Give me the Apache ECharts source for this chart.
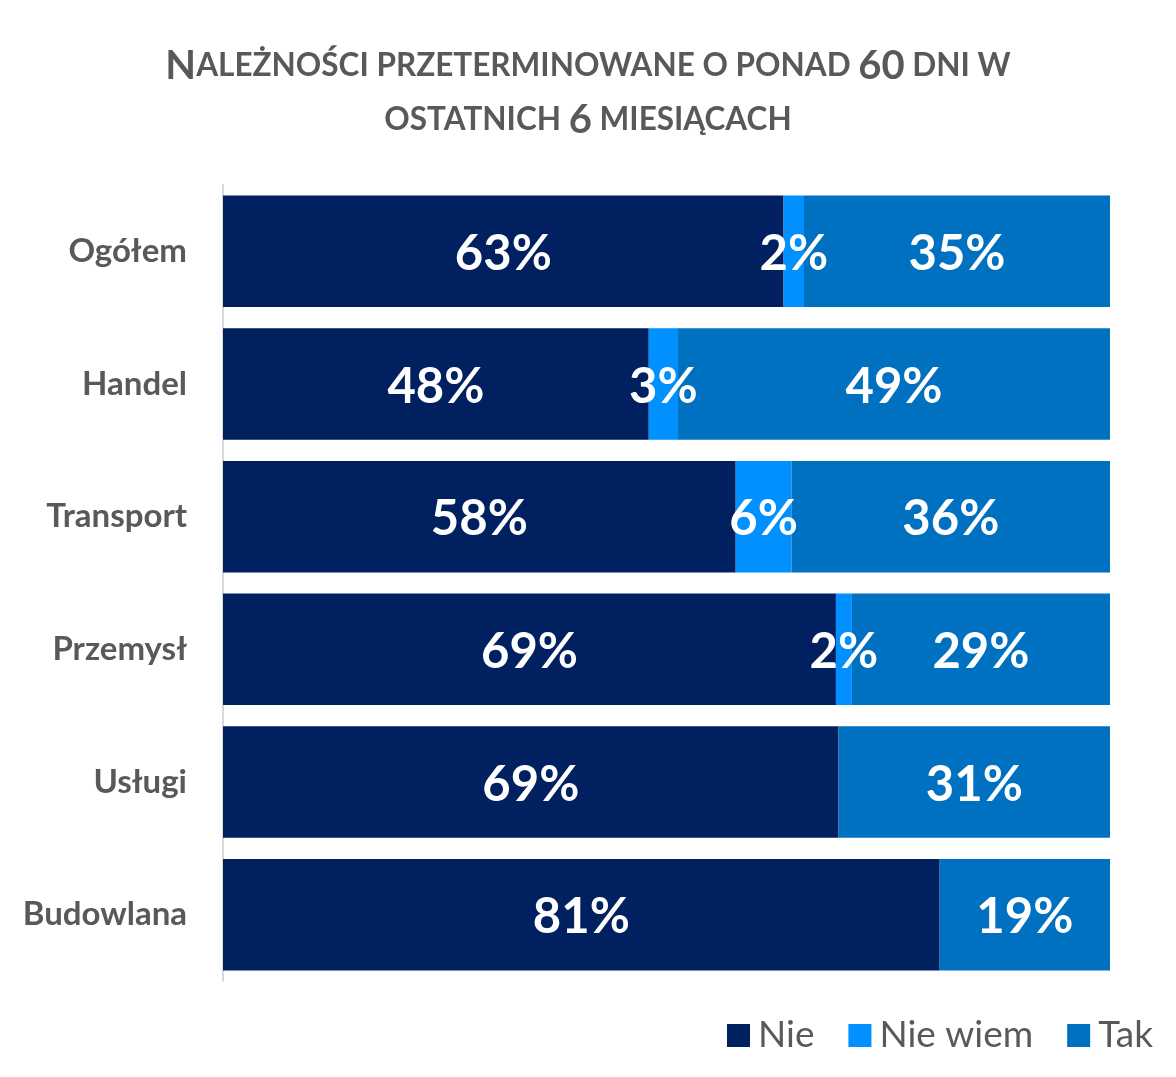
<!DOCTYPE html>
<html>
<head>
<meta charset="utf-8">
<script src="https://cdn.jsdelivr.net/npm/echarts@6/dist/echarts.min.js"></script>
<style>
  html, body { margin: 0; padding: 0; background: #fff; }
  #chart { width: 1176px; height: 1077px; }
</style>
</head>
<body>
<div id="chart"></div>
<script>
// dane (udział w %)
const categories = ['Ogółem', 'Handel', 'Transport', 'Przemysł', 'Usługi', 'Budowlana'];
const nieValues = [63.2, 48.0, 57.8, 69.1, 69.4, 80.8];
const nieWiemValues = [2.3, 3.3, 6.3, 1.8, 0, 0];
const takValues = [34.5, 48.7, 35.9, 29.1, 30.6, 19.2];
const seriesNames = ['Nie', 'Nie wiem', 'Tak'];
const seriesColors = ['#002060', '#0090FF', '#0070C0'];

const chart = echarts.init(document.getElementById('chart'));

const labelFont = 'Lato, "Open Sans", sans-serif';

// etykieta w środku segmentu, pomijamy zera
const barLabel = {
  show: true,
  position: 'inside',
  offset: [0, 3],
  color: '#fff',
  fontFamily: labelFont,
  fontWeight: 'bold',
  fontSize: 49,
  formatter: p => (p.value > 0 ? Math.round(p.value) + '%' : '')
};

const option = {
  backgroundColor: '#fff',
  animation: false,
  title: {
    // imitacja kapitalików
    text: '{b|N}{s|ALEŻNOŚCI PRZETERMINOWANE O PONAD }{b|60}{s| DNI W}\n{s|OSTATNICH }{b|6}{s| MIESIĄCACH}',
    left: 'center',
    top: 34,
    textStyle: {
      rich: {
        b: { fontFamily: labelFont, fontWeight: 'bold', fontSize: 40, color: '#595959', lineHeight: 54 },
        s: { fontFamily: labelFont, fontWeight: 'bold', fontSize: 31.5, color: '#595959', lineHeight: 54 }
      }
    }
  },
  legend: {
    data: seriesNames,
    right: 18,
    top: 1012,
    itemWidth: 23,
    itemHeight: 23,
    itemGap: 34,
    icon: 'rect',
    textStyle: { fontFamily: labelFont, fontSize: 37, color: '#595959', padding: [0, 0, 0, 3] }
  },
  grid: {
    left: 223,
    right: 66,
    top: 185,
    bottom: 96,
    containLabel: false
  },
  xAxis: {
    type: 'value',
    min: 0,
    max: 100,
    show: false
  },
  yAxis: {
    type: 'category',
    data: categories,
    inverse: true,
    axisLine: { show: true, lineStyle: { color: '#d9d9d9', width: 2 } },
    axisTick: { show: false },
    axisLabel: {
      margin: 36,
      fontFamily: labelFont,
      fontWeight: 'bold',
      fontSize: 33,
      color: '#595959'
    }
  },
  series: [
    { name: seriesNames[0], type: 'bar', stack: 'all', data: nieValues, barCategoryGap: '16%', itemStyle: { color: seriesColors[0] }, label: barLabel },
    { name: seriesNames[1], type: 'bar', stack: 'all', data: nieWiemValues, itemStyle: { color: seriesColors[1] }, label: barLabel },
    { name: seriesNames[2], type: 'bar', stack: 'all', data: takValues, itemStyle: { color: seriesColors[2] }, label: barLabel }
  ]
};

chart.setOption(option);
</script>
</body>
</html>
